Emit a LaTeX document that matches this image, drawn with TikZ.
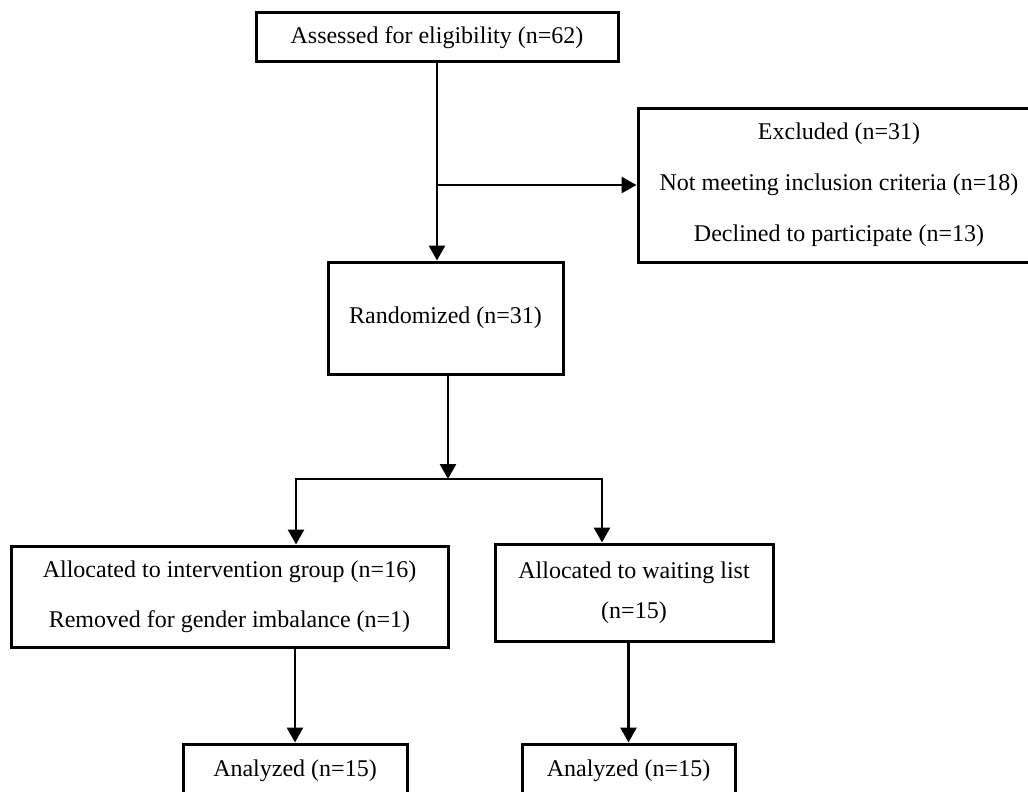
\documentclass[tikz,border=0pt]{standalone}
\usepackage{fontspec}
\setmainfont{Liberation Serif}
\usetikzlibrary{arrows.meta,calc}
\begin{document}
\begin{tikzpicture}[x=1pt,y=-1pt,
  box/.style={draw,line width=3pt,inner sep=0pt,align=center,font=\fontsize{24}{50}\selectfont},
  conn/.style={line width=2.7pt},
  arr/.style={conn,-{Triangle[length=15pt,width=16pt]}}]
\useasboundingbox[fill=white] (0,0) rectangle (1028,792);
\node[box,minimum width=362pt,minimum height=49pt] (assess) at (437,37.5) {Assessed for eligibility (n=62)};
\node[box,minimum width=402pt,minimum height=154pt,font=\fontsize{24}{51}\selectfont] (excl) at (839,185)
  {Excluded (n=31)\\Not meeting inclusion criteria (n=18)\\Declined to participate (n=13)};
\node[box,minimum width=235pt,minimum height=112pt] (rand) at (445.5,318) {Randomized (n=31)};
\node[box,minimum width=437pt,minimum height=101pt] (lalloc) at (229.5,596.5)
  {Allocated to intervention group (n=16)\\Removed for gender imbalance (n=1)};
\node[box,minimum width=278pt,minimum height=97pt,font=\fontsize{24}{40}\selectfont] (ralloc) at (634,592.5)
  {Allocated to waiting list\\(n=15)};
\node[box,minimum width=224pt,minimum height=54pt] (anal) at (295,771) {Analyzed (n=15)};
\node[box,minimum width=213pt,minimum height=54pt] (anar) at (628.5,771) {Analyzed (n=15)};
% connectors
\draw[arr] (assess.south) -- (assess.south |- rand.north);
\coordinate (br) at (assess.south |- excl.west);
\draw[arr] (br) -- (excl.west);
\coordinate (split) at (448,479);
\coordinate (sl) at (296,479);
\coordinate (sr) at (602,479);
\draw[arr] (rand.south -| split) -- (split);
\draw[arr] (sr) -- (sl) -- (sl |- lalloc.north);
\draw[arr] (sl) -- (sr) -- (sr |- ralloc.north);
\draw[arr] (lalloc.south -| anal.north) -- (anal.north);
\draw[arr] (ralloc.south -| anar.north) -- (anar.north);
\end{tikzpicture}
\end{document}
